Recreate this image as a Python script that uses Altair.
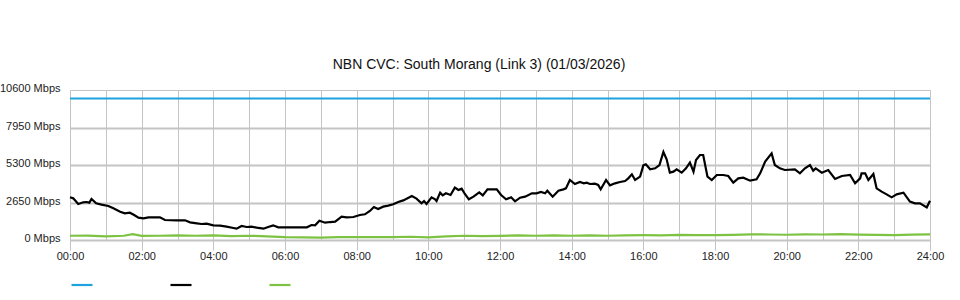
import altair as alt
import pandas as pd

# ---- data (hours of day, Mbps) ----
series_names = ["CVC Capacity", "Traffic In", "Traffic Out"]
series_colors = ["#1fa3de", "#000000", "#7dc243"]
series_widths = [2.2, 2.2, 2.6]

blue_t = [0, 24]
blue_v = [10000, 10000]

black_t = [0.00, 0.09, 0.23, 0.37, 0.46, 0.54, 0.60, 0.73, 0.88, 1.07, 1.21, 1.40, 1.53, 1.67,
           1.79, 1.91, 2.05, 2.19, 2.51, 2.65, 2.98, 3.21, 3.35, 3.54, 3.67, 3.81, 4.00, 4.19,
           4.37, 4.56, 4.65, 4.79, 4.93, 5.07, 5.21, 5.40, 5.53, 5.67, 5.81, 6.09, 6.33, 6.61,
           6.74, 6.84, 6.96, 7.12, 7.26, 7.40, 7.58, 7.72, 7.91, 8.09, 8.23, 8.37, 8.48, 8.60,
           8.74, 8.88, 9.02, 9.16, 9.30, 9.54, 9.67, 9.81, 9.88, 9.95, 10.09, 10.19, 10.23,
           10.33, 10.40, 10.49, 10.62, 10.74, 10.84, 10.93, 11.02, 11.13, 11.26, 11.42, 11.52,
           11.65, 11.91, 12.03, 12.17, 12.31, 12.42, 12.56, 12.70, 12.89, 13.02, 13.14, 13.26,
           13.32, 13.47, 13.63, 13.77, 13.84, 13.95, 14.09, 14.23, 14.34, 14.42, 14.51, 14.65,
           14.74, 14.81, 14.96, 15.07, 15.21, 15.35, 15.49, 15.58, 15.68, 15.77, 15.91, 16.00,
           16.07, 16.19, 16.33, 16.45, 16.56, 16.65, 16.74, 16.84, 16.93, 17.07, 17.19, 17.30,
           17.40, 17.47, 17.58, 17.67, 17.79, 17.91, 18.05, 18.23, 18.37, 18.51, 18.65, 18.79,
           18.98, 19.16, 19.26, 19.40, 19.58, 19.67, 19.81, 19.95, 20.23, 20.37, 20.51, 20.65,
           20.74, 20.81, 20.98, 21.16, 21.35, 21.54, 21.77, 21.91, 22.05, 22.09, 22.19, 22.28,
           22.42, 22.51, 22.65, 22.79, 22.93, 23.07, 23.26, 23.44, 23.58, 23.72, 23.91, 24.00]
black_v = [3016, 2945, 2544, 2662, 2686, 2640, 2897, 2591, 2497, 2403, 2238, 2002, 1884, 1931,
           1767, 1578, 1531, 1602, 1602, 1413, 1390, 1390, 1248, 1178, 1130, 1155, 1036, 1010,
           942, 848, 801, 989, 920, 940, 870, 801, 920, 1036, 895, 895, 895, 895,
           1060, 1040, 1366, 1225, 1270, 1296, 1649, 1600, 1625, 1767, 1815, 2049, 2332, 2191,
           2355, 2426, 2521, 2685, 2800, 3109, 2921, 2591, 2750, 2544, 3016, 2870, 2760,
           3345, 3157, 3298, 3180, 3698, 3533, 3627, 3250, 2874, 3062, 3368, 3156,
           3580, 3580, 3180, 2874, 3016, 2733, 2992, 3062, 3298, 3298, 3392, 3298,
           3486, 3062, 3486, 3580, 3650, 4240, 3957, 4099, 4005, 4052, 3957, 3980,
           3887, 3580, 4240, 3863, 4005, 4099, 4170, 4358, 4641, 4240, 4476, 5276,
           5347, 4994, 5064, 5300, 6219, 5701, 4759, 4830, 4994, 4759, 5064, 5465,
           4830, 5653, 6007, 6007, 4476, 4240, 4593, 4593, 4523, 4052, 4358, 4405,
           4193, 4287, 4711, 5536, 6124, 5300, 5064, 4947, 4994, 4711, 5064, 5300,
           4900, 5064, 4759, 4947, 4311, 4523, 4594, 4005, 4358, 4711, 4711, 4240,
           4664, 3651, 3416, 3227, 3016, 3227, 3345, 2709, 2591, 2591, 2309, 2780]

green_t = [0.0, 0.5, 1.0, 1.5, 1.75, 2.0, 2.5, 3.0, 3.5, 4.0, 4.5, 5.0, 5.5, 6.0, 6.5, 7.0,
           7.5, 8.0, 8.5, 9.0, 9.5, 10.0, 10.5, 11.0, 11.5, 12.0, 12.5, 13.0, 13.5, 14.0,
           14.5, 15.0, 15.5, 16.0, 16.5, 17.0, 17.5, 18.0, 18.5, 19.0, 19.5, 20.0, 20.5,
           21.0, 21.5, 22.0, 22.5, 23.0, 23.5, 24.0]
green_v = [300, 310, 260, 300, 420, 290, 300, 320, 300, 330, 280, 300, 260, 200, 180, 170,
           200, 200, 210, 200, 230, 180, 260, 300, 280, 290, 320, 300, 320, 300,
           330, 300, 330, 340, 330, 360, 350, 340, 360, 400, 390, 370, 400,
           390, 420, 380, 360, 340, 380, 400]

y_ticks = [0, 2650, 5300, 7950, 10600]
x_ticks = list(range(0, 25))

rows = []
for name, ts, vs in zip(series_names, [blue_t, black_t, green_t], [blue_v, black_v, green_v]):
    for t, v in zip(ts, vs):
        rows.append({"series": name, "hour": t, "mbps": v})
df = pd.DataFrame(rows)

FONT = "Liberation Sans"

chart = alt.Chart(df).mark_line(interpolate="linear").encode(
    x=alt.X("hour:Q",
            scale=alt.Scale(domain=[0, 24], nice=False),
            axis=alt.Axis(values=x_ticks, title=None, domain=False,
                          grid=True, gridColor="#c4c4c4", gridWidth=1,
                          tickSize=10, tickColor="#c4c4c4", tickWidth=1,
                          tickOpacity={"condition": {"test": "datum.value % 2 === 0", "value": 1}, "value": 0},
                          labelExpr="datum.value % 2 === 0 ? (datum.value < 10 ? '0' : '') + datum.value + ':00' : ''",
                          labelFont=FONT, labelFontSize=11, labelColor="#222222",
                          labelPadding=0, labelFlush=False, labelOverlap=False)),
    y=alt.Y("mbps:Q",
            scale=alt.Scale(domain=[0, 10600], nice=False, zero=True),
            axis=alt.Axis(values=y_ticks, title=None, domain=False, ticks=False,
                          grid=True, gridColor="#c4c4c4",
                          gridWidth={"condition": {"test": "datum.value === 10600", "value": 1}, "value": 2},
                          labelExpr="datum.value + ' Mbps'",
                          labelFont=FONT, labelFontSize=11, labelColor="#222222",
                          labelPadding=10, labelOffset=-1.5)),
    color=alt.Color("series:N",
                    scale=alt.Scale(domain=series_names, range=series_colors),
                    legend=alt.Legend(orient="none", legendX=0, legendY=183, direction="horizontal",
                                      title=None, symbolType="stroke", symbolSize=441,
                                      symbolStrokeWidth=3, labelExpr="''", labelOffset=0,
                                      columnPadding=69, padding=0)),
    strokeWidth=alt.StrokeWidth("series:N",
                                scale=alt.Scale(domain=series_names, range=series_widths),
                                legend=None),
).properties(
    width=860,
    height=150,
    title=alt.TitleParams("NBN CVC: South Morang (Link 3) (01/03/2026)",
                          font=FONT, fontSize=14, fontWeight="normal",
                          color="#111111", offset=11, dx=-21),
    autosize=alt.AutoSizeParams(type="none"),
    padding={"left": 70, "top": 90, "right": 30, "bottom": 60},
).configure_view(stroke=None).configure(background="white")

chart.save("out.html", embed_options={"renderer": "svg", "actions": False})
